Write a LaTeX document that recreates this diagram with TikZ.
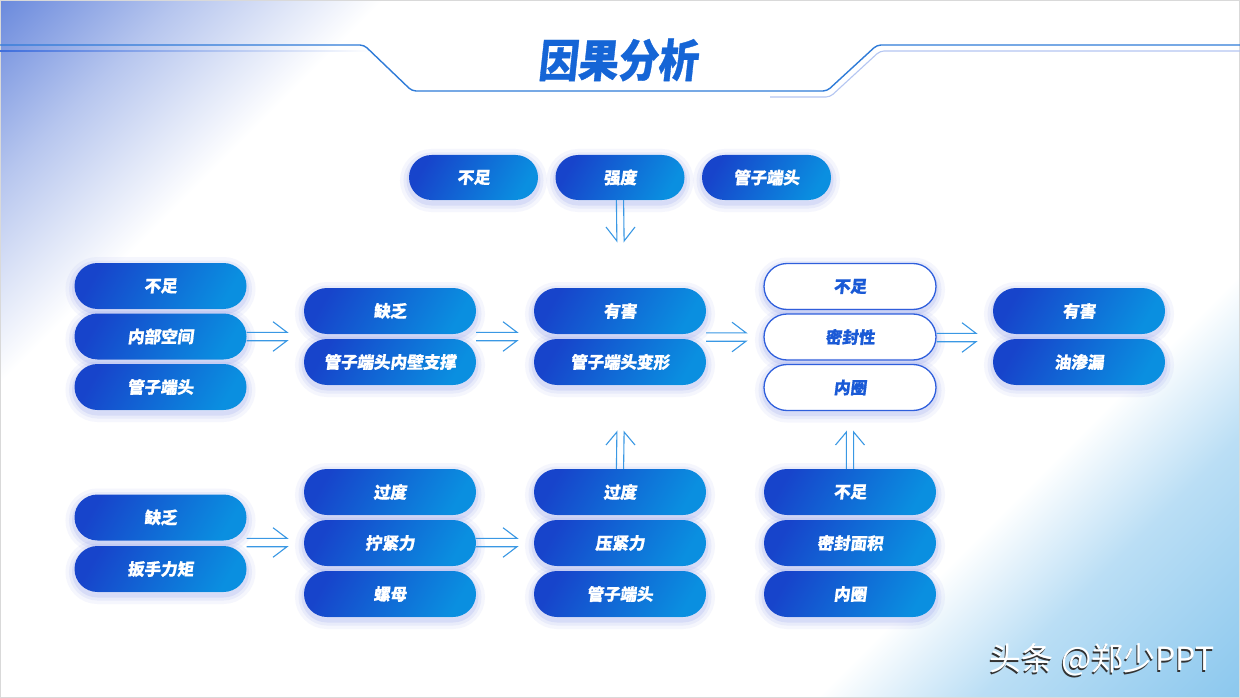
\documentclass[tikz,border=0pt]{standalone}
\usepackage{fontspec}
\usepackage{graphicx}
\setmainfont{Noto Sans CJK SC}
\newfontfamily\pillfont[FakeSlant=0.12, BoldFeatures={FakeBold=0.8}]{Noto Sans CJK SC}
\usetikzlibrary{calc}
\definecolor{pA}{HTML}{1744CB}
\definecolor{pB}{HTML}{0A8FE0}
\definecolor{pW}{HTML}{2F5FDC}
\definecolor{pT}{HTML}{1A5AD6}
\definecolor{glow}{HTML}{4A5CE0}
\definecolor{arr}{HTML}{3A98E4}
\definecolor{ttl}{HTML}{1565D6}
\definecolor{hdr}{HTML}{2F7BD8}
\definecolor{hdrB}{HTML}{3F6EDC}
\definecolor{hdrL}{HTML}{B4C6F2}
\definecolor{bgA}{HTML}{6C8BDD}
\definecolor{bgB}{HTML}{8CC8EE}
\pgfdeclarehorizontalshading{bgsh}{100bp}{color(0bp)=(bgA); color(14.6bp)=(bgA); color(21bp)=(bgA!50); color(28.5bp)=(white); color(70bp)=(white); color(76bp)=(bgB!60); color(85.4bp)=(bgB); color(100bp)=(bgB)}
\tikzset{
  glowfx/.style={
    preaction={draw=glow, draw opacity=0.05, line width=18pt, transform canvas={yshift=-3pt}},
    preaction={draw=glow, draw opacity=0.07, line width=11pt, transform canvas={yshift=-3pt}},
    preaction={draw=glow, draw opacity=0.10, line width=5pt, transform canvas={yshift=-3pt}}},
  pbase/.style={rounded corners=23pt, minimum width=172pt, minimum height=46pt, inner sep=0pt,
    font=\pillfont\bfseries\fontsize{16.5}{18}\selectfont, glowfx},
  pill/.style={pbase, text=white, top color=pA, bottom color=pB, shading angle=60},
  wpill/.style={pbase, fill=white, draw=pW, line width=1.3pt, text=pT},
  small/.style={minimum width=129pt, minimum height=45pt, rounded corners=22.5pt},
  arrline/.style={draw=arr, line width=1.1pt, line join=miter}
}
% horizontal double arrow: #1 start coordinate name, #2 tip coordinate name
\newcommand\hdarrow[2]{%
  \draw[arrline] ([yshift=4.2pt]#1) -- ([yshift=4.2pt]#2) -- ([xshift=-14pt,yshift=14.8pt]#2);
  \draw[arrline] ([yshift=-4.2pt]#1) -- ([yshift=-4.2pt]#2) -- ([xshift=-14pt,yshift=-14.8pt]#2);}
% vertical double arrow: #1 start, #2 tip, #3 barb yshift
\newcommand\vdarrow[3]{%
  \draw[arrline] ([xshift=-3.6pt]#1) -- ([xshift=-3.6pt]#2) -- ([xshift=-14.5pt,yshift=#3]#2);
  \draw[arrline] ([xshift=3.6pt]#1) -- ([xshift=3.6pt]#2) -- ([xshift=14.5pt,yshift=#3]#2);}
\begin{document}
\begin{tikzpicture}[x=1pt,y=-1pt]
\useasboundingbox (0,0) rectangle (1240,698);
% background
\shade[shading=bgsh, shading angle=-45] (0,0) rectangle (1240,698);
\draw[black!15, line width=1.2pt] (0.6,0.6) rectangle (1239.4,697.4);
% header lines
\shade[left color=hdrB, right color=white] (0,50.3) rectangle (372,51.7);
\draw[hdrL, line width=1.1pt, rounded corners=4pt] (770,97) -- (830,97) -- (880,51) -- (1240,51);
\draw[hdr, line width=1.4pt, rounded corners=4pt] (0,45) -- (364,45) -- (412,91) -- (827,91) -- (877,45) -- (1240,45);
% title
\node[font=\pillfont\bfseries\fontsize{40}{40}\selectfont, text=ttl] (title) at (617.5,60) {\scalebox{1}[1.12]{因果分析}};
% top row
\node[pill, small] (t1) at (473.5,177.5) {不足};
\node[pill, small] (t2) at (620,177.5) {强度};
\node[pill, small] (t3) at (766.5,177.5) {管子端头};
% column 1 (upper)
\node[pill] (a1) at (160.5,286) {不足};
\node[pill] (a2) at (160.5,336.5) {内部空间};
\node[pill] (a3) at (160.5,387) {管子端头};
% column 2 (upper)
\node[pill] (b1) at (390,311) {缺乏};
\node[pill] (b2) at (390,362) {管子端头内壁支撑};
% column 3 (upper)
\node[pill] (c1) at (620,311) {有害};
\node[pill] (c2) at (620,362) {管子端头变形};
% column 4 (upper, white)
\node[wpill] (d1) at (850,286.5) {不足};
\node[wpill] (d2) at (850,337) {密封性};
\node[wpill] (d3) at (850,387.5) {内圈};
% column 5
\node[pill] (e1) at (1079,311) {有害};
\node[pill] (e2) at (1079,362) {油渗漏};
% lower rows
\node[pill] (f1) at (160.5,517.5) {缺乏};
\node[pill] (f2) at (160.5,569) {扳手力矩};
\node[pill] (g1) at (390,492) {过度};
\node[pill] (g2) at (390,543) {拧紧力};
\node[pill] (g3) at (390,594) {螺母};
\node[pill] (h1) at (620,492) {过度};
\node[pill] (h2) at (620,543) {压紧力};
\node[pill] (h3) at (620,594) {管子端头};
\node[pill] (k1) at (850,492) {不足};
\node[pill] (k2) at (850,543) {密封面积};
\node[pill] (k3) at (850,594) {内圈};
% arrow tips
\coordinate (x1) at (287,336.5);
\coordinate (x2) at (517,336.5);
\coordinate (x3) at (746,337);
\coordinate (x4) at (976,337.5);
\coordinate (x5) at (287,542.5);
\coordinate (x6) at (517,542.5);
\coordinate (v1) at (620.5,241);
\coordinate (v2) at (620.5,432);
\coordinate (v3) at (850,432);
% arrow starts on the node borders
\coordinate (s1) at (a2.east |- x1);
\coordinate (s2) at (b1.east |- x2);
\coordinate (s3) at (c1.east |- x3);
\coordinate (s4) at (d2.east |- x4);
\coordinate (s5) at (f1.east |- x5);
\coordinate (s6) at (g2.east |- x6);
\coordinate (u1) at (t2.south);
\coordinate (u2) at (h1.north);
\coordinate (u3) at (k1.north);
% arrows
\hdarrow{s1}{x1}
\hdarrow{s2}{x2}
\hdarrow{s3}{x3}
\hdarrow{s4}{x4}
\hdarrow{s5}{x5}
\hdarrow{s6}{x6}
\vdarrow{u1}{v1}{14pt}
\vdarrow{u2}{v2}{-13pt}
\vdarrow{u3}{v3}{-13pt}
% watermark
\node[font=\fontsize{32}{32}\selectfont, text=black!80] at (1101,661.5) {头条 @郑少PPT};
\node[font=\fontsize{32}{32}\selectfont, text=white] (wm) at (1102,660) {头条 @郑少PPT};
\end{tikzpicture}
\end{document}
